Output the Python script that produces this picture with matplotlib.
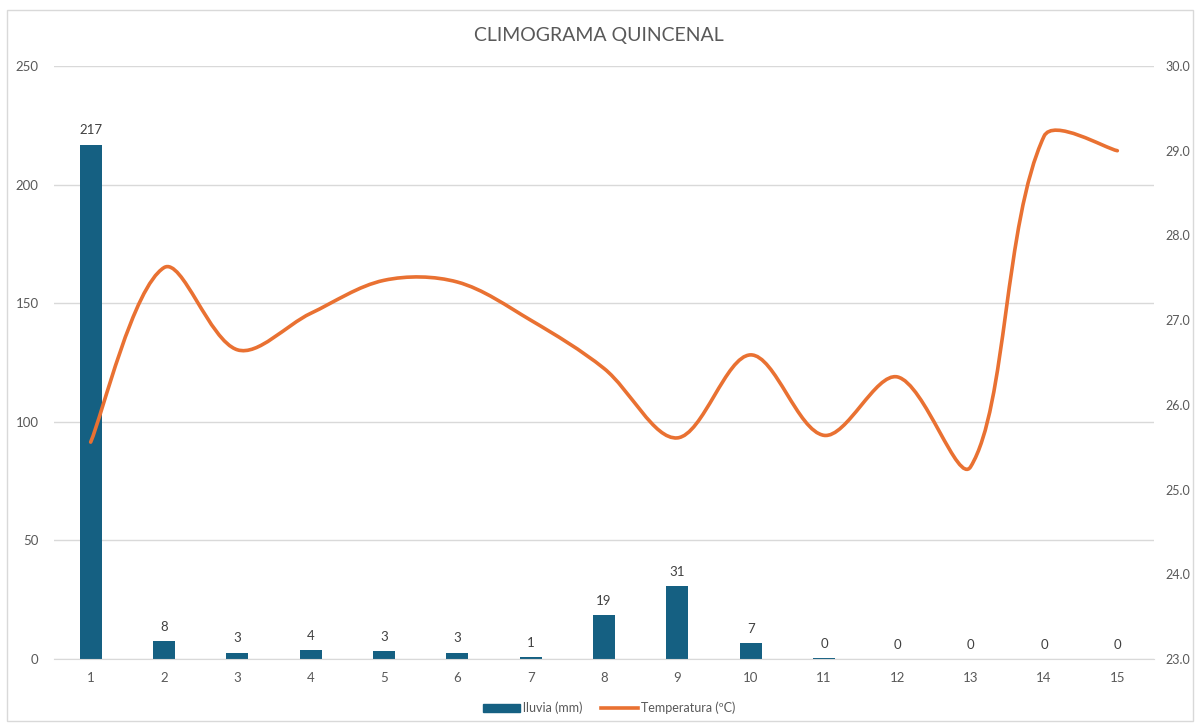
import numpy as np
import matplotlib as mpl
mpl.use('Agg')
import matplotlib.pyplot as plt
from matplotlib.path import Path
from matplotlib.patches import PathPatch, Rectangle
from matplotlib.lines import Line2D

plt.rcParams['font.family'] = ['Lato', 'DejaVu Sans']

# datos
quincenas = [1, 2, 3, 4, 5, 6, 7, 8, 9, 10, 11, 12, 13, 14, 15]
lluvia = [216.8, 7.6, 2.7, 3.6, 3.2, 2.6, 0.8, 18.6, 30.6, 6.6, 0.3, 0, 0, 0, 0]
temperatura = [25.56, 27.62, 26.65, 27.08, 27.47, 27.45, 27.0, 26.43, 25.61,
               26.59, 25.64, 26.33, 25.27, 29.17, 29.0]
yticks_lluvia = [0, 50, 100, 150, 200, 250]
yticks_temp = [23.0, 24.0, 25.0, 26.0, 27.0, 28.0, 29.0, 30.0]

azul = '#156082'
naranja = '#E97132'
gris = '#595959'

W, H = 1198, 725
fig = plt.figure(figsize=(W/100, H/100), dpi=100)
ax = fig.add_axes([54/W, 66/H, 1100/W, 593/H])
ax2 = ax.twinx()

# borde exterior del grafico
fig.patches.append(Rectangle((7/W, 4/H), 1186/W, 711/H, transform=fig.transFigure,
                             fill=False, edgecolor='#d9d9d9', lw=1))

x = np.array(quincenas)
ax.bar(x, lluvia, width=0.3, color=azul, zorder=2)
for xi, v in zip(x, lluvia):
    ax.annotate('%d' % round(v), (xi, v), xytext=(0, 6), textcoords='offset points',
                ha='center', va='bottom', fontsize=9.5, color='#404040')

ax.set_xlim(0.5, 15.5)
ax.set_ylim(0, 250)
ax.set_yticks(yticks_lluvia)
ax.set_xticks(x)
ax.grid(axis='y', color='#d9d9d9', lw=1, zorder=0)
ax.set_axisbelow(True)
for s in ['top', 'right', 'left']:
    ax.spines[s].set_visible(False)
ax.spines['bottom'].set_color('#d9d9d9')
ax.tick_params(axis='both', length=0, labelsize=9.5, colors=gris)
ax.tick_params(axis='y', pad=11)
ax.tick_params(axis='x', pad=9)

ax2.set_ylim(23, 30)
ax2.set_yticks(yticks_temp)
ax2.set_yticklabels(['%.1f' % v for v in yticks_temp])
for s in ax2.spines.values():
    s.set_visible(False)
ax2.tick_params(axis='y', length=0, labelsize=9, colors=gris, pad=8)

# linea suavizada (bezier tipo Excel, tangentes escaladas por longitud de tramo)
px_x = 1100 / 15.0
px_y = 593 / 7.0
pts = np.column_stack([x * px_x, (np.array(temperatura) - 23) * px_y])
n = len(pts)
ext = np.vstack([pts[0], pts, pts[-1]])
d = np.linalg.norm(np.diff(pts, axis=0), axis=1)
verts = [pts[0]]
codes = [Path.MOVETO]
for i in range(n - 1):
    # tangente en i y en i+1
    t0 = ext[i + 2] - ext[i]
    t1 = ext[i + 3] - ext[i + 1]
    dl0 = d[i - 1] if i > 0 else d[i]
    dr1 = d[i + 1] if i + 1 < n - 1 else d[i]
    c1 = pts[i] + t0 * (d[i] / (dl0 + d[i])) / 3
    c2 = pts[i + 1] - t1 * (d[i] / (d[i] + dr1)) / 3
    verts += [c1, c2, pts[i + 1]]
    codes += [Path.CURVE4] * 3
verts = np.array(verts)
verts[:, 0] = verts[:, 0] / px_x
verts[:, 1] = verts[:, 1] / px_y + 23
ax2.add_patch(PathPatch(Path(verts, codes), fill=False, edgecolor=naranja, lw=2.6,
                        capstyle='round', joinstyle='round', zorder=3))

fig.text(0.5, 1 - 35/H, 'CLIMOGRAMA QUINCENAL', ha='center', va='center',
         fontsize=14, color=gris)

handles = [Rectangle((0, 0), 1, 1, color=azul),
           Line2D([0], [0], color=naranja, lw=2.6)]
fig.legend(handles, ['lluvia (mm)', 'Temperatura (ºC)'], loc='center',
           bbox_to_anchor=(609/W, 1 - 708/H), ncol=2, frameon=False,
           fontsize=9, labelcolor=gris, handlelength=3.0, handleheight=0.6,
           handletextpad=0.2, columnspacing=1.5)

fig.savefig('out.png', dpi=100)
